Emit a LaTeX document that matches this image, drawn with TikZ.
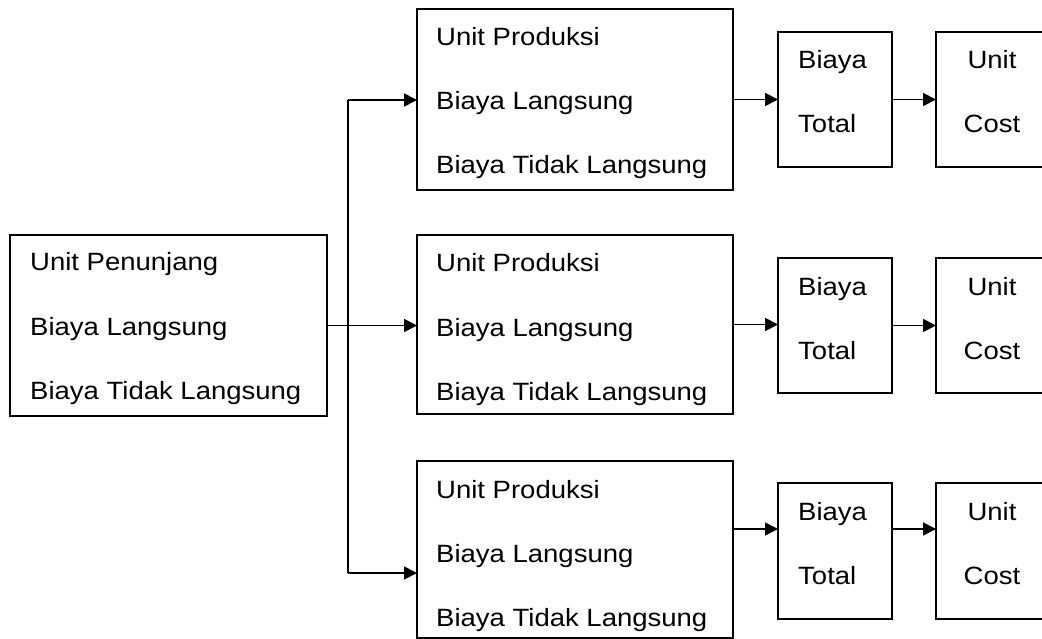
\documentclass[tikz,border=0pt]{standalone}
\usepackage{fontspec}
\setmainfont{Liberation Sans}[FakeStretch=1.1]
\usetikzlibrary{arrows.meta}
\begin{document}
\begin{tikzpicture}[x=1pt,y=-1pt,
  box/.style={draw,line width=1.8pt,anchor=north west,inner sep=0pt,outer sep=0pt},
  txt/.style={anchor=base west,inner sep=0pt,font=\fontsize{25}{30}\selectfont},
  ctxt/.style={anchor=base,inner sep=0pt,font=\fontsize{25}{30}\selectfont},
  conn/.style={line width=1.8pt},
  arr/.style={line width=1.8pt,-{Triangle[length=13pt,width=13pt]}}]
\useasboundingbox (0,0) rectangle (1042,639);
\clip (0,0) rectangle (1042,639);
% boxes
\node[box,minimum width=317pt,minimum height=181pt] (pen) at (10,235) {};
\node[box,minimum width=316pt,minimum height=181pt] (p1) at (417,9) {};
\node[box,minimum width=316pt,minimum height=179pt] (p2) at (417,235) {};
\node[box,minimum width=316pt,minimum height=177pt] (p3) at (417,461) {};
\node[box,minimum width=114pt,minimum height=135pt] (t1) at (778,32) {};
\node[box,minimum width=114pt,minimum height=135pt] (t2) at (778,258) {};
\node[box,minimum width=114pt,minimum height=136pt] (t3) at (778,483) {};
\node[box,minimum width=112pt,minimum height=135pt] (c1) at (936,32) {};
\node[box,minimum width=112pt,minimum height=135pt] (c2) at (936,258) {};
\node[box,minimum width=112pt,minimum height=136pt] (c3) at (936,483) {};
% texts
\node[txt] (pen1) at ([shift={(20,36)}]pen.north west) {Unit Penunjang};
\node[txt] (pen2) at ([shift={(20,100)}]pen.north west) {Biaya Langsung};
\node[txt] (pen3) at ([shift={(20,164)}]pen.north west) {Biaya Tidak Langsung};
\foreach \b in {p1,p2,p3}{
  \node[txt] (\b a) at ([shift={(19,37)}]\b.north west) {Unit Produksi};
  \node[txt] (\b b) at ([shift={(19,101)}]\b.north west) {Biaya Langsung};
  \node[txt] (\b c) at ([shift={(19,165)}]\b.north west) {Biaya Tidak Langsung};
}
\foreach \b in {t1,t2,t3}{
  \node[txt] (\b a) at ([shift={(20,37)}]\b.north west) {Biaya};
  \node[txt] (\b b) at ([shift={(20,101)}]\b.north west) {Total};
}
\foreach \b in {c1,c2,c3}{
  \node[ctxt] (\b a) at ([shift={(56,37)}]\b.north west) {Unit};
  \node[ctxt] (\b b) at ([shift={(56,101)}]\b.north west) {Cost};
}
% connectors
\coordinate (jt) at (348,100);
\coordinate (jb) at (348,573);
\coordinate (r3) at (0,529);
\draw[conn] (pen.east) -- (pen.east -| jt);
\draw[conn] (jt) -- (jb);
\draw[arr] (jt) -- (jt -| p1.west);
\draw[arr] (pen.east) -- (pen.east -| p2.west);
\draw[arr] (jb) -- (jb -| p3.west);
\draw[arr] (p1.east) -- (p1.east -| t1.west);
\draw[arr] (t1.east) -- (t1.east -| c1.west);
\draw[arr] (p2.east) -- (p2.east -| t2.west);
\draw[arr] (t2.east) -- (t2.east -| c2.west);
\draw[arr] (r3 -| p3.east) -- (r3 -| t3.west);
\draw[arr] (r3 -| t3.east) -- (r3 -| c3.west);
\end{tikzpicture}
\end{document}
